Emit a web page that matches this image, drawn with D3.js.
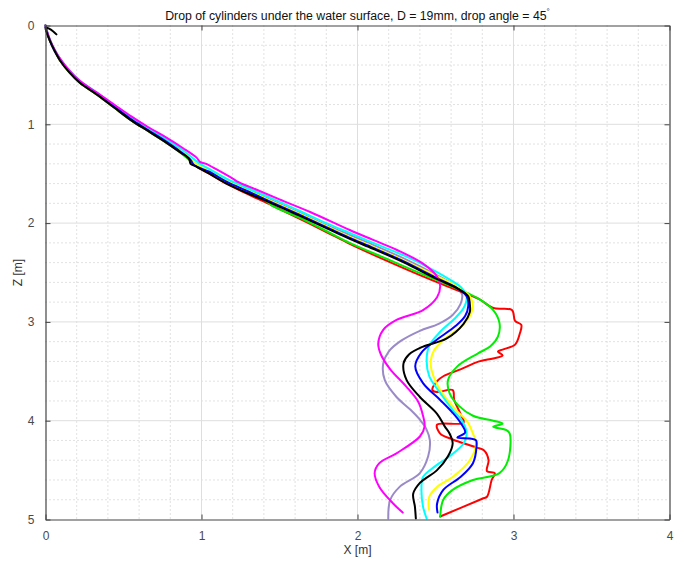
<!DOCTYPE html>
<html>
<head>
<meta charset="utf-8">
<script src="https://cdn.jsdelivr.net/npm/d3@7"></script>
<style>
  html, body { margin: 0; padding: 0; background: #fff; }
  svg { display: block; font-family: "Liberation Sans", Arial, sans-serif; }
</style>
</head>
<body>
<svg id="chart" width="686" height="564"></svg>
<script>
// Trajectories of dropped cylinders: [X (m), Z (m)] samples for each run
const runRed = [
  [0,0],[0.01,0.07],[0.03,0.16],[0.06,0.26],[0.1,0.37],[0.15,0.47],[0.22,0.58],[0.33,0.70],[0.44,0.83],
  [0.55,0.96],[0.66,1.07],[0.76,1.17],[0.86,1.28],[0.93,1.37],[0.96,1.42],[1.05,1.50],[1.16,1.60],
  [1.3,1.71],[1.45,1.82],[1.62,1.95],[1.8,2.09],[1.95,2.21],[2.2,2.39],[2.45,2.56],[2.64,2.68],
  [2.78,2.77],[2.87,2.86],[2.99,2.88],[3.01,2.99],[3.05,3.03],[3.04,3.12],[3.01,3.23],[2.93,3.28],
  [2.90,3.30],[2.93,3.34],[2.87,3.37],[2.78,3.40],[2.66,3.48],[2.55,3.55],[2.51,3.60],[2.48,3.69],
  [2.51,3.71],[2.61,3.69],[2.62,3.79],[2.66,3.93],[2.68,4.02],[2.51,4.04],[2.53,4.13],[2.61,4.19],
  [2.76,4.27],[2.81,4.30],[2.84,4.40],[2.83,4.51],[2.88,4.53],[2.86,4.60],[2.83,4.77],[2.80,4.79],
  [2.53,4.97]
];
const runGreen = [
  [0,0],[0.01,0.07],[0.03,0.16],[0.06,0.26],[0.1,0.37],[0.15,0.47],[0.22,0.58],[0.33,0.70],[0.44,0.83],
  [0.55,0.96],[0.66,1.07],[0.76,1.17],[0.86,1.28],[0.93,1.37],[0.97,1.41],[1.05,1.48],[1.16,1.58],
  [1.22,1.59],[1.35,1.69],[1.45,1.82],[1.62,1.94],[1.8,2.08],[1.95,2.20],[2.2,2.37],[2.45,2.54],
  [2.68,2.69],[2.78,2.77],[2.87,2.88],[2.91,3.01],[2.90,3.15],[2.85,3.25],[2.77,3.32],[2.64,3.45],
  [2.58,3.59],[2.59,3.72],[2.65,3.85],[2.74,3.95],[2.87,4.00],[2.93,4.03],[2.87,4.06],[2.955,4.095],
  [2.976,4.13],[2.965,4.40],[2.91,4.53],[2.74,4.60],[2.61,4.70],[2.55,4.80],[2.53,4.97]
];
const runYellow = [
  [0,0],[0.01,0.07],[0.03,0.16],[0.06,0.26],[0.1,0.36],[0.15,0.46],[0.22,0.57],[0.33,0.69],[0.44,0.82],
  [0.55,0.94],[0.66,1.05],[0.76,1.15],[0.86,1.26],[0.93,1.35],[0.96,1.40],[1.05,1.47],[1.16,1.57],
  [1.3,1.67],[1.45,1.78],[1.62,1.90],[1.8,2.03],[1.95,2.14],[2.1,2.24],[2.3,2.38],[2.5,2.53],
  [2.65,2.65],[2.72,2.74],[2.74,2.84],[2.72,2.94],[2.67,3.04],[2.56,3.17],[2.49,3.29],[2.47,3.39],
  [2.475,3.49],[2.53,3.69],[2.63,3.89],[2.70,4.00],[2.74,4.13],[2.76,4.23],[2.72,4.40],[2.61,4.57],
  [2.51,4.67],[2.46,4.77],[2.458,4.90]
];
const runCyan = [
  [0,0],[0.01,0.06],[0.03,0.15],[0.06,0.25],[0.1,0.35],[0.15,0.45],[0.22,0.56],[0.33,0.68],[0.44,0.81],
  [0.55,0.93],[0.66,1.04],[0.76,1.14],[0.87,1.25],[0.95,1.35],[0.98,1.39],[1.05,1.45],[1.16,1.55],
  [1.3,1.65],[1.45,1.75],[1.62,1.87],[1.8,2.00],[1.95,2.10],[2.1,2.20],[2.3,2.33],[2.48,2.47],
  [2.6,2.58],[2.67,2.66],[2.70,2.75],[2.68,2.86],[2.62,2.97],[2.53,3.10],[2.46,3.24],[2.443,3.39],
  [2.46,3.55],[2.53,3.72],[2.61,3.89],[2.67,4.00],[2.70,4.13],[2.68,4.23],[2.59,4.36],[2.49,4.47],
  [2.42,4.57],[2.41,4.70],[2.42,4.87],[2.443,4.99]
];
const runBlue = [
  [0,0],[0.01,0.07],[0.03,0.16],[0.06,0.26],[0.1,0.36],[0.15,0.46],[0.22,0.57],[0.33,0.69],[0.44,0.82],
  [0.55,0.95],[0.66,1.06],[0.76,1.16],[0.86,1.27],[0.93,1.36],[0.95,1.41],[1.05,1.48],[1.16,1.58],
  [1.3,1.68],[1.45,1.79],[1.62,1.91],[1.8,2.04],[1.95,2.15],[2.1,2.25],[2.3,2.39],[2.5,2.55],
  [2.64,2.66],[2.70,2.74],[2.71,2.84],[2.69,2.94],[2.63,3.04],[2.50,3.19],[2.41,3.31],[2.37,3.45],
  [2.42,3.62],[2.53,3.79],[2.61,3.92],[2.66,4.02],[2.69,4.12],[2.64,4.17],[2.72,4.18],[2.76,4.20],
  [2.763,4.26],[2.74,4.43],[2.66,4.57],[2.55,4.70],[2.51,4.84],[2.513,4.93]
];
const runLilac = [
  [0,0],[0.01,0.06],[0.03,0.15],[0.06,0.25],[0.1,0.36],[0.15,0.46],[0.22,0.57],[0.33,0.69],[0.44,0.82],
  [0.55,0.94],[0.66,1.05],[0.76,1.15],[0.86,1.26],[0.93,1.36],[0.95,1.40],[1.05,1.47],[1.16,1.57],
  [1.3,1.67],[1.45,1.77],[1.62,1.89],[1.8,2.02],[1.95,2.12],[2.1,2.22],[2.3,2.36],[2.5,2.52],
  [2.62,2.63],[2.67,2.72],[2.66,2.82],[2.61,2.93],[2.52,3.02],[2.40,3.09],[2.28,3.19],[2.20,3.30],
  [2.165,3.42],[2.175,3.59],[2.25,3.76],[2.34,3.89],[2.40,3.99],[2.44,4.08],[2.464,4.20],[2.453,4.36],
  [2.40,4.53],[2.27,4.67],[2.21,4.80],[2.197,4.99]
];
const runMagenta = [
  [0,0],[0.01,0.06],[0.03,0.15],[0.06,0.25],[0.1,0.35],[0.15,0.45],[0.22,0.56],[0.33,0.68],[0.44,0.80],
  [0.55,0.92],[0.66,1.03],[0.77,1.13],[0.88,1.24],[0.97,1.34],[0.99,1.38],[1.03,1.40],[1.1,1.46],
  [1.2,1.55],[1.23,1.58],[1.35,1.66],[1.5,1.76],[1.7,1.89],[1.95,2.07],[2.1,2.17],[2.25,2.27],
  [2.42,2.41],[2.51,2.54],[2.53,2.64],[2.51,2.75],[2.42,2.88],[2.25,2.98],[2.165,3.08],[2.133,3.22],
  [2.15,3.33],[2.21,3.48],[2.31,3.65],[2.39,3.81],[2.42,3.95],[2.43,4.06],[2.40,4.16],[2.25,4.33],
  [2.14,4.43],[2.11,4.53],[2.14,4.67],[2.23,4.84],[2.29,4.93]
];
const runBlack = [
  [0.07,0.09],[0.05,0.06],[0.02,0.03],[0,0.02],[0.01,0.08],[0.03,0.16],[0.06,0.26],[0.1,0.37],
  [0.15,0.47],[0.22,0.58],[0.33,0.70],[0.44,0.83],[0.55,0.96],[0.66,1.07],[0.76,1.17],[0.86,1.28],
  [0.92,1.35],[0.93,1.40],[0.97,1.43],[1.05,1.50],[1.16,1.60],[1.3,1.70],[1.45,1.80],[1.62,1.92],
  [1.8,2.05],[1.95,2.16],[2.1,2.26],[2.3,2.40],[2.5,2.56],[2.64,2.66],[2.71,2.74],[2.72,2.82],
  [2.72,2.90],[2.68,3.02],[2.57,3.17],[2.42,3.25],[2.33,3.33],[2.295,3.42],[2.315,3.59],[2.40,3.76],
  [2.51,3.93],[2.56,4.06],[2.59,4.13],[2.61,4.23],[2.58,4.36],[2.51,4.50],[2.40,4.63],[2.357,4.74],
  [2.368,4.87],[2.374,4.99]
];

const runs = [
  { name: "lilac", color: "#9a8bc8", pts: runLilac },
  { name: "red", color: "#ff0000", pts: runRed },
  { name: "green", color: "#00ee00", pts: runGreen },
  { name: "yellow", color: "#ffff00", pts: runYellow },
  { name: "cyan", color: "#00ffff", pts: runCyan },
  { name: "blue", color: "#0000ff", pts: runBlue },
  { name: "magenta", color: "#ff00ff", pts: runMagenta },
  { name: "black", color: "#000000", pts: runBlack }
];

const xTicks = [0, 1, 2, 3, 4];
const zTicks = [0, 1, 2, 3, 4, 5];
const titleText = "Drop of cylinders under the water surface, D = 19mm, drop angle = 45";
const xLabel = "X [m]";
const zLabel = "Z [m]";

const svg = d3.select("#chart");
const plotL = 45.5, plotR = 669.5, plotT = 25.5, plotB = 519.5;
const x = d3.scaleLinear().domain([0, 4]).range([plotL, plotR]);
const y = d3.scaleLinear().domain([0, 5]).range([plotT, plotB]);

// minor grid (dotted) every 0.2
const minorX = d3.range(0, 4.0001, 0.2).filter(v => Math.abs(v - Math.round(v)) > 1e-6);
const minorZ = d3.range(0, 5.0001, 0.2).filter(v => Math.abs(v - Math.round(v)) > 1e-6);
const grid = svg.append("g");
grid.selectAll(".mx").data(minorX).join("line")
  .attr("x1", d => x(d)).attr("x2", d => x(d)).attr("y1", plotT).attr("y2", plotB)
  .attr("stroke", "#c4c4c4").attr("stroke-width", 1).attr("stroke-dasharray", "1,3");
grid.selectAll(".mz").data(minorZ).join("line")
  .attr("y1", d => y(d)).attr("y2", d => y(d)).attr("x1", plotL).attr("x2", plotR)
  .attr("stroke", "#c4c4c4").attr("stroke-width", 1).attr("stroke-dasharray", "1,3");
// major grid (solid)
grid.selectAll(".Mx").data(xTicks.slice(1, -1)).join("line")
  .attr("x1", d => x(d)).attr("x2", d => x(d)).attr("y1", plotT).attr("y2", plotB)
  .attr("stroke", "#dedede").attr("stroke-width", 1);
grid.selectAll(".Mz").data(zTicks.slice(1, -1)).join("line")
  .attr("y1", d => y(d)).attr("y2", d => y(d)).attr("x1", plotL).attr("x2", plotR)
  .attr("stroke", "#dedede").attr("stroke-width", 1);

// trajectories
const line = d3.line().x(d => x(d[0])).y(d => y(d[1])).curve(d3.curveCatmullRom.alpha(0.5));
svg.append("g").selectAll("path").data(runs).join("path")
  .attr("d", d => line(d.pts))
  .attr("fill", "none")
  .attr("stroke", d => d.color)
  .attr("stroke-width", 2)
  .attr("stroke-linejoin", "round")
  .attr("stroke-linecap", "round");

// axes with inward ticks on all four sides
const axisColor = "#444";
const tickLen = 5;
const xAxisB = d3.axisBottom(x).tickValues(xTicks).tickSizeInner(-tickLen).tickSizeOuter(0).tickPadding(12).tickFormat(d3.format("d"));
const xAxisT = d3.axisTop(x).tickValues(xTicks).tickSizeInner(-tickLen).tickSizeOuter(0).tickFormat("");
const yAxisL = d3.axisLeft(y).tickValues(zTicks).tickSizeInner(-tickLen).tickSizeOuter(0).tickPadding(11).tickFormat(d3.format("d"));
const yAxisR = d3.axisRight(y).tickValues(zTicks).tickSizeInner(-tickLen).tickSizeOuter(0).tickFormat("");

function styleAxis(g) {
  g.select(".domain").attr("stroke", axisColor).attr("stroke-width", 1.2);
  g.selectAll(".tick line").attr("stroke", axisColor).attr("stroke-width", 1);
  g.selectAll(".tick text").attr("fill", "#4a4a4a").attr("font-size", 12)
    .attr("font-family", "Liberation Sans, Arial, sans-serif");
}
svg.append("g").attr("transform", `translate(0,${plotB})`).call(xAxisB).call(styleAxis);
svg.append("g").attr("transform", `translate(0,${plotT})`).call(xAxisT).call(styleAxis);
svg.append("g").attr("transform", `translate(${plotL},0)`).call(yAxisL).call(styleAxis);
svg.append("g").attr("transform", `translate(${plotR},0)`).call(yAxisR).call(styleAxis);

// title and axis labels
const title = svg.append("text")
  .attr("x", (plotL + plotR) / 2).attr("y", 20)
  .attr("text-anchor", "middle").attr("font-size", 12.3).attr("fill", "#111");
title.append("tspan").text(titleText);
title.append("tspan").text("°").attr("font-size", 8).attr("dy", -6);

svg.append("text").attr("x", (plotL + plotR) / 2).attr("y", 554)
  .attr("text-anchor", "middle").attr("font-size", 12).attr("fill", "#333").text(xLabel);
svg.append("text").attr("transform", `translate(22,${(plotT + plotB) / 2}) rotate(-90)`)
  .attr("text-anchor", "middle").attr("font-size", 12).attr("fill", "#333").text(zLabel);
</script>
</body>
</html>
